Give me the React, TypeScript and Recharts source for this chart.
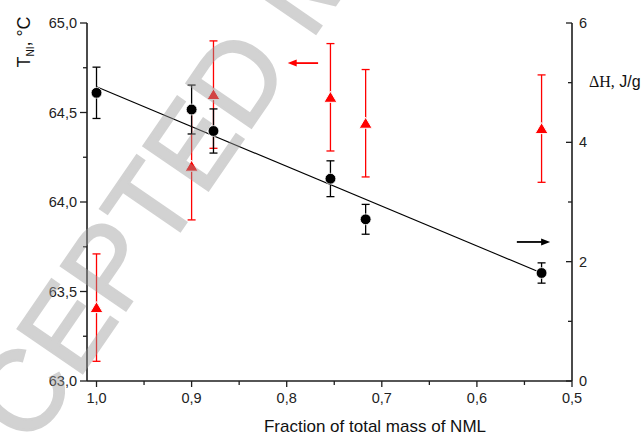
import React from 'react';
import { ComposedChart, Scatter, Line, XAxis, YAxis, ErrorBar, ReferenceLine } from 'recharts';

// fraction of total mass of NML for each sample
const fraction = [1.0, 0.9, 0.877, 0.754, 0.717, 0.532];
// T_NI, °C (left axis, red triangles)
const tNI = [63.41, 64.2, 64.6, 64.585, 64.44, 64.41];
const tNIErr = [0.3, 0.3, 0.3, 0.3, 0.3, 0.3];
// ΔH, J/g (right axis, black circles)
const dH = [4.83, 4.55, 4.19, 3.39, 2.71, 1.81];
const dHErr = [0.43, 0.41, 0.37, 0.3, 0.25, 0.17];
// linear fit of ΔH
const fitFraction = [1.0, 0.532];
const fitDH = [4.93, 1.81];

const xTicks = [1.0, 0.95, 0.9, 0.85, 0.8, 0.75, 0.7, 0.65, 0.6, 0.55, 0.5];
const leftTicks = [63, 63.25, 63.5, 63.75, 64, 64.25, 64.5, 64.75, 65];
const rightTicks = [0, 1, 2, 3, 4, 5, 6];

// arrows telling which axis each series belongs to
const leftArrow = { from: 0.767, to: 0.799, at: 64.776 };
const rightArrow = { from: 0.558, to: 0.523, at: 2.33 };

const tData = fraction.map((x, i) => ({ x, t: tNI[i], err: tNIErr[i] }));
const hData = fraction.map((x, i) => ({ x, h: dH[i], err: dHErr[i] }));
const fitData = fitFraction.map((x, i) => ({ x, fit: fitDH[i] }));

const AXIS = '#1e1e1e';
const FONT = '"Liberation Sans", Arial, sans-serif';
const TICK_FS = 14.5;

const isMajor = (v: number, step: number) => Math.abs(v / step - Math.round(v / step)) < 1e-6;
const comma = (v: number) => v.toFixed(1).replace('.', ',');

const XTick = ({ x, y, payload }: any) => {
  const major = isMajor(payload.value, 0.1);
  return (
    <g>
      <line x1={x} x2={x} y1={y} y2={y + (major ? 6 : 4)} stroke={AXIS} strokeWidth={1.3} />
      {major && (
        <text x={x} y={y + 22} textAnchor="middle" fontSize={TICK_FS} fontFamily={FONT} fill="#222">
          {comma(payload.value)}
        </text>
      )}
    </g>
  );
};

const LeftTick = ({ x, y, payload }: any) => {
  const major = isMajor(payload.value, 0.5);
  return (
    <g>
      <line x1={x - (major ? 7 : 4)} x2={x} y1={y} y2={y} stroke={AXIS} strokeWidth={1.3} />
      {major && (
        <text x={x - 10} y={y + 5} textAnchor="end" fontSize={TICK_FS} fontFamily={FONT} fill="#222">
          {comma(payload.value)}
        </text>
      )}
    </g>
  );
};

const RightTick = ({ x, y, payload }: any) => {
  const major = isMajor(payload.value, 2);
  return (
    <g>
      <line x1={x - (major ? 6 : 4)} x2={x} y1={y} y2={y} stroke={AXIS} strokeWidth={1.3} />
      {major && (
        <text x={x + 7} y={y + 5} textAnchor="start" fontSize={TICK_FS} fontFamily={FONT} fill="#222">
          {payload.value}
        </text>
      )}
    </g>
  );
};

const Triangle = ({ cx, cy }: any) => (
  <polygon
    points={`${cx - 6.5},${cy + 5} ${cx + 6.5},${cy + 5} ${cx},${cy - 6}`}
    fill="#ff0000"
    stroke="#fff"
    strokeWidth={1}
  />
);

const Dot = ({ cx, cy }: any) => <circle cx={cx} cy={cy} r={5.4} fill="#000" stroke="#fff" strokeWidth={0.8} />;

const Arrow = (color: string) => (props: any) => {
  const { x1, y1, x2, y2 } = props;
  const dir = x2 > x1 ? 1 : -1;
  return (
    <g>
      <line x1={x1} y1={y1} x2={x2 - dir * 6} y2={y2} stroke={color} strokeWidth={1.8} />
      <polygon points={`${x2},${y2} ${x2 - dir * 9},${y2 - 3.5} ${x2 - dir * 9},${y2 + 3.5}`} fill={color} />
    </g>
  );
};

const XTitle = () => (
  <text x={375} y={432} textAnchor="middle" fontSize={17} fontFamily={FONT} fill="#111">
    Fraction of total mass of NML
  </text>
);

const LeftTitle = () => (
  <text transform="translate(30 42) rotate(-90)" textAnchor="middle" fontSize={18} fontFamily={FONT} fill="#111">
    T<tspan fontSize={10} dy={4}>NI</tspan>
    <tspan dy={-4}>, °C</tspan>
  </text>
);

const RightTitle = () => (
  <text x={589} y={87} fontSize={16} fill="#111">
    <tspan fontFamily='"Liberation Serif", "Times New Roman", serif'>ΔH,</tspan>
    <tspan fontFamily={FONT}> J/g</tspan>
  </text>
);

export default function App() {
  return (
    <div style={{ position: 'absolute', left: 0, top: 0, width: 642, height: 435, background: '#fff' }}>
      <ComposedChart width={642} height={435} margin={{ top: 23, right: 10, bottom: 14, left: 27 }}>
        <XAxis
          type="number"
          dataKey="x"
          domain={[0.5, 1.01]}
          reversed
          allowDataOverflow
          ticks={xTicks}
          interval={0}
          height={40}
          tickSize={0}
          tickMargin={0}
          tickLine={false}
          tick={<XTick />}
          axisLine={{ stroke: AXIS, strokeWidth: 1.6 }}
          label={{ content: <XTitle /> }}
        />
        <YAxis
          yAxisId="left"
          type="number"
          domain={[63, 65]}
          allowDataOverflow
          ticks={leftTicks}
          interval={0}
          width={60}
          tickSize={0}
          tickMargin={0}
          tickLine={false}
          tick={<LeftTick />}
          axisLine={{ stroke: AXIS, strokeWidth: 1.6 }}
          label={{ content: <LeftTitle /> }}
        />
        <YAxis
          yAxisId="right"
          orientation="right"
          type="number"
          domain={[0, 6]}
          allowDataOverflow
          ticks={rightTicks}
          interval={0}
          width={60}
          tickSize={0}
          tickMargin={0}
          tickLine={false}
          tick={<RightTick />}
          axisLine={{ stroke: AXIS, strokeWidth: 1.6 }}
          label={{ content: <RightTitle /> }}
        />
        <Line
          yAxisId="right"
          data={fitData}
          dataKey="fit"
          type="linear"
          stroke="#000"
          strokeWidth={1.1}
          dot={false}
          activeDot={false}
          isAnimationActive={false}
        />
        <Scatter yAxisId="left" data={tData} dataKey="t" shape={<Triangle />} isAnimationActive={false}>
          <ErrorBar dataKey="err" direction="y" width={4} stroke="#ff0000" strokeWidth={1.3} />
        </Scatter>
        <Scatter yAxisId="right" data={hData} dataKey="h" shape={<Dot />} isAnimationActive={false}>
          <ErrorBar dataKey="err" direction="y" width={4} stroke="#000" strokeWidth={1.3} />
        </Scatter>
        <ReferenceLine
          yAxisId="left"
          segment={[{ x: leftArrow.from, y: leftArrow.at }, { x: leftArrow.to, y: leftArrow.at }]}
          shape={Arrow('#ff0000')}
        />
        <ReferenceLine
          yAxisId="right"
          segment={[{ x: rightArrow.from, y: rightArrow.at }, { x: rightArrow.to, y: rightArrow.at }]}
          shape={Arrow('#000')}
        />
      </ComposedChart>
      <svg width={642} height={435} style={{ position: 'absolute', left: 0, top: 0, pointerEvents: 'none' }}>
        <g opacity={0.44}>
          <text
            transform="translate(-59 579) rotate(-55.5)"
            fontSize={114}
            fontFamily={FONT}
            fill="#9a9a9a"
            stroke="#9a9a9a"
            strokeWidth={2.5}
          >
            ACCEPTED MANUSCRIPT
          </text>
        </g>
      </svg>
    </div>
  );
}
